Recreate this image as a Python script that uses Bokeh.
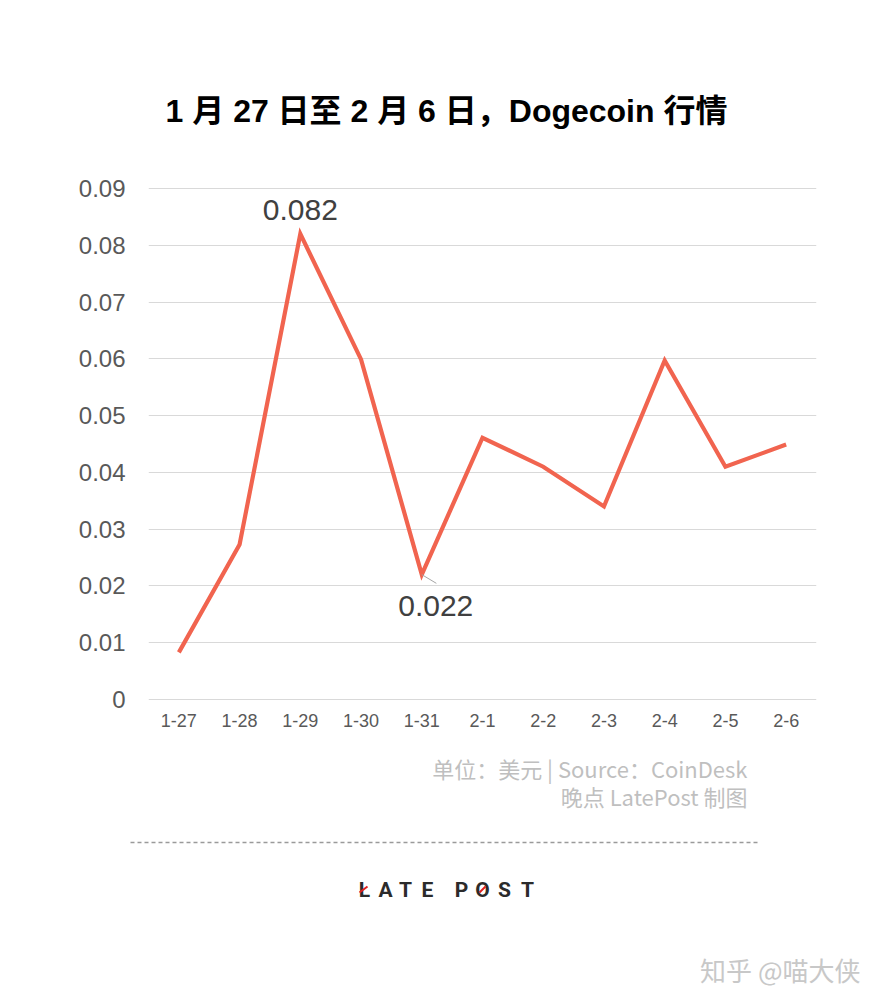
from bokeh.plotting import figure
from bokeh.layouts import column
from bokeh.models import (Range1d, FactorRange, SingleIntervalTicker,
                          CustomJSTickFormatter, ColumnDataSource)
from bokeh.core.properties import value
from bokeh.embed import file_html
from bokeh.resources import INLINE

# ---- data ----
dates = ["1-27", "1-28", "1-29", "1-30", "1-31", "2-1", "2-2", "2-3", "2-4", "2-5", "2-6"]
prices = [0.0083, 0.0273, 0.082, 0.0599, 0.022, 0.0461, 0.041, 0.034, 0.0597, 0.041, 0.0449]
peak_idx = 2
low_idx = 4
y_max = 0.09
y_step = 0.01
title_text = "1 月 27 日至 2 月 6 日，Dogecoin 行情"
source_line1 = "单位：美元 | Source：CoinDesk"
source_line2 = "晚点 LatePost 制图"
logo_letters = ["L", "A", "T", "E", "P", "O", "S", "T"]
watermark = "知乎 @喵大侠"

W = 866
TOP_H = 150          # page y 0..150
MAIN_H = 595         # page y 150..745
BOT_H = 244          # page y 745..989


def blank(height, y0):
    f = figure(width=W, height=height, x_range=Range1d(0, W), y_range=Range1d(y0 + height, y0),
               output_backend="svg", toolbar_location=None,
               x_axis_location=None, y_axis_location=None, frame_align=False,
               min_border=0, min_border_left=0, min_border_right=0,
               min_border_top=0, min_border_bottom=0)
    f.grid.visible = False
    f.outline_line_color = None
    f.background_fill_color = "white"
    f.border_fill_color = "white"
    return f


# ---- title ----
top = blank(TOP_H, 0)
top.text(x=[446], y=[110], text=[title_text], text_font=value("Liberation Sans, Noto Sans CJK SC"),
         text_font_style="bold", text_font_size="32px", text_color="#000000",
         text_align="center", text_baseline="middle")

# ---- main chart ----
pad = y_max / 511.0  # ~1px so that the end grid lines are drawn
p = figure(width=W, height=MAIN_H, x_range=FactorRange(*dates), y_range=Range1d(-pad, y_max + pad),
           output_backend="svg", toolbar_location=None, frame_align=False,
           min_border_left=148, min_border_right=50, min_border_top=37, min_border_bottom=45)
p.outline_line_color = None
p.background_fill_color = "white"
p.border_fill_color = "white"
p.xgrid.grid_line_color = None
p.ygrid.grid_line_color = "#d9d9d9"
p.ygrid.grid_line_width = 1

p.yaxis.ticker = SingleIntervalTicker(interval=y_step)
p.yaxis.formatter = CustomJSTickFormatter(code="return Math.abs(tick) < 1e-9 ? '0' : tick.toFixed(2);")
for ax in (p.xaxis, p.yaxis):
    ax.axis_line_color = None
    ax.major_tick_line_color = None
    ax.minor_tick_line_color = None
    ax.major_label_text_color = "#595959"
    ax.major_label_text_font = "Liberation Sans"
p.yaxis.major_label_text_font_size = "24px"
p.yaxis.major_label_standoff = 17
p.xaxis.major_label_text_font_size = "18px"
p.xaxis.major_label_standoff = 7

p.line(dates, prices, line_color="#F1644F", line_width=4.2, line_join="miter")

ann_peak = ColumnDataSource(dict(x=[dates[peak_idx]], y=[prices[peak_idx]], t=[f"{prices[peak_idx]:.3f}"]))
ann_low = ColumnDataSource(dict(x=[dates[low_idx]], y=[prices[low_idx]], t=[f"{prices[low_idx]:.3f}"]))
p.text(x="x", y="y", text="t", source=ann_peak, y_offset=-24,
       text_font=value("Liberation Sans"), text_font_size="30px", text_color="#404040",
       text_align="center", text_baseline="middle")
p.text(x="x", y="y", text="t", source=ann_low, x_offset=14, y_offset=31,
       text_font=value("Liberation Sans"), text_font_size="30px", text_color="#404040",
       text_align="center", text_baseline="middle")
# leader line from the low point to its label
p.ray(x="x", y="y", source=ann_low, length=17, length_units="screen", angle=-0.54,
      line_color="#a6a6a6", line_width=1)

# ---- footer ----
bot = blank(BOT_H, 745)
bot.text(x=[747, 747], y=[767, 795], text=[source_line1, source_line2],
         text_font=value("Noto Sans CJK SC"), text_font_size="22px", text_color="#bfbfbf",
         text_align="right", text_baseline="middle")
bot.line(x=[130, 760], y=[842, 842], line_color="#9a9a9a", line_width=1.5, line_dash="4 3")
logo_x = [364, 385, 405, 427, 461, 482, 504, 527]
bot.text(x=logo_x, y=[889] * len(logo_x), text=logo_letters,
         text_font=value("Roboto"), text_font_style="bold", text_font_size="21px",
         text_color="#2b2b2b", text_align="center", text_baseline="middle")
bot.segment(x0=[359, 479], y0=[892, 892], x1=[367, 485], y1=[886, 886],
            line_color="#e02020", line_width=2)
bot.text(x=[860], y=[969], text=[watermark], text_font=value("Noto Sans CJK SC"),
         text_font_size="26px", text_color="#c8c8c8", text_align="right", text_baseline="middle")

layout = column(top, p, bot, spacing=0)
open("out.html", "w").write(file_html(layout, INLINE))
